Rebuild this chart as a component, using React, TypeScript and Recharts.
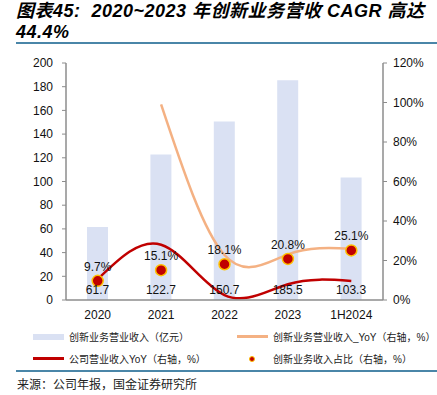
import React from 'react';
import {
  ComposedChart,
  Bar,
  Line,
  XAxis,
  YAxis,
  LabelList,
} from 'recharts';

const categories = ['2020', '2021', '2022', '2023', '1H2024'];
const innovRevenue = [61.7, 122.7, 150.7, 185.5, 103.3];
const innovYoY: (number | null)[] = [null, 99.0, 22.8, 23.1, 26.0];
const companyYoY = [10.5, 28.0, 2.5, 8.0, 9.6];
const innovShare = [9.7, 15.1, 18.1, 20.8, 25.1];

const leftTicks = [0, 20, 40, 60, 80, 100, 120, 140, 160, 180, 200];
const rightTicks = [0, 20, 40, 60, 80, 100, 120];

const SERIES_NAMES = {
  bar: '创新业务营业收入（亿元）',
  innovYoY: '创新业务营业收入_YoY（右轴，%）',
  companyYoY: '公司营业收入YoY（右轴，%）',
  share: '创新业务收入占比（右轴，%）',
};

const COLORS = {
  bar: '#DAE1F3',
  orange: '#F4B183',
  red: '#C00000',
  dotStroke: '#FFC000',
  axis: '#8C8C8C',
  rule: '#4A86A8',
};

const data = categories.map((c, i) => ({
  name: c,
  revenue: innovRevenue[i],
  innovYoY: innovYoY[i],
  companyYoY: companyYoY[i],
  share: innovShare[i],
}));

const FONT = '"Liberation Sans", Arial, "Noto Sans CJK SC", sans-serif';

const LegendSwatch = ({ kind }: { kind: 'bar' | 'orange' | 'red' | 'dot' }) => {
  if (kind === 'dot') {
    return (
      <svg width={34} height={10} style={{ display: 'block' }}>
        <circle cx={17} cy={5} r={2.5} fill={COLORS.red} stroke={COLORS.dotStroke} strokeWidth={1} />
      </svg>
    );
  }
  if (kind === 'bar') {
    return <div style={{ width: 31, height: 6, background: COLORS.bar }} />;
  }
  return (
    <div
      style={{
        width: 31,
        height: 3,
        background: kind === 'orange' ? COLORS.orange : COLORS.red,
      }}
    />
  );
};

const LegendItem = ({
  kind,
  label,
  x,
  y,
}: {
  kind: 'bar' | 'orange' | 'red' | 'dot';
  label: string;
  x: number;
  y: number;
}) => (
  <div
    style={{
      position: 'absolute',
      left: x,
      top: y,
      display: 'flex',
      alignItems: 'center',
      gap: 4,
      fontSize: 10,
      color: '#222',
      whiteSpace: 'nowrap',
    }}
  >
    <div style={{ width: 34, display: 'flex', justifyContent: 'center' }}>
      <LegendSwatch kind={kind} />
    </div>
    <span>{label}</span>
  </div>
);

export default function App() {
  return (
    <div
      style={{
        position: 'absolute',
        left: 0,
        top: 0,
        width: 437,
        height: 395,
        background: '#fff',
        fontFamily: FONT,
        overflow: 'hidden',
      }}
    >
      {/* title */}
      <div
        style={{
          position: 'absolute',
          left: 16,
          top: 1,
          fontSize: 18,
          fontWeight: 'bold',
          fontStyle: 'italic',
          letterSpacing: 0.5,
          lineHeight: '21px',
          color: '#000',
          whiteSpace: 'nowrap',
        }}
      >
        <div>图表45:&nbsp; 2020~2023 年创新业务营收 CAGR 高达</div>
        <div>44.4%</div>
      </div>
      <div
        style={{
          position: 'absolute',
          left: 16,
          top: 42,
          width: 421,
          height: 2,
          background: COLORS.rule,
        }}
      />

      <div style={{ position: 'absolute', left: 0, top: 0 }}>
        <ComposedChart
          width={437}
          height={330}
          data={data}
          margin={{ top: 63, right: 0, bottom: 0, left: 0 }}
        >
          <XAxis
            dataKey="name"
            height={30}
            tickLine={false}
            axisLine={{ stroke: COLORS.axis, strokeWidth: 1.5 }}
            tick={{ fontSize: 12, fill: '#111' }}
            tickMargin={4}
          />
          <YAxis
            yAxisId="left"
            width={66}
            domain={[0, 200]}
            ticks={leftTicks}
            interval={0}
            tickSize={4}
            tickMargin={9}
            axisLine={{ stroke: COLORS.axis, strokeWidth: 1.5 }}
            tickLine={{ stroke: COLORS.axis }}
            tick={{ fontSize: 12, fill: '#111' }}
          />
          <YAxis
            yAxisId="right"
            orientation="right"
            width={54}
            domain={[0, 120]}
            ticks={rightTicks}
            interval={0}
            tickSize={4}
            tickMargin={6}
            tickFormatter={(v: number) => `${v}%`}
            axisLine={{ stroke: COLORS.axis, strokeWidth: 1.5 }}
            tickLine={{ stroke: COLORS.axis }}
            tick={{ fontSize: 12, fill: '#111' }}
          />
          <Bar
            yAxisId="left"
            dataKey="revenue"
            name={SERIES_NAMES.bar}
            fill={COLORS.bar}
            barSize={21}
            isAnimationActive={false}
          >
            <LabelList
              dataKey="revenue"
              position="insideBottom"
              offset={6}
              style={{ fontSize: 12, fill: '#111' }}
              formatter={(v: number) => v.toFixed(1)}
            />
          </Bar>
          <Line
            yAxisId="right"
            type="natural"
            dataKey="innovYoY"
            name={SERIES_NAMES.innovYoY}
            stroke={COLORS.orange}
            strokeWidth={2.5}
            dot={false}
            activeDot={false}
            isAnimationActive={false}
          />
          <Line
            yAxisId="right"
            type="natural"
            dataKey="companyYoY"
            name={SERIES_NAMES.companyYoY}
            stroke={COLORS.red}
            strokeWidth={2.5}
            dot={false}
            activeDot={false}
            isAnimationActive={false}
          />
          <Line
            yAxisId="right"
            dataKey="share"
            name={SERIES_NAMES.share}
            stroke="none"
            dot={{ r: 5.5, fill: COLORS.red, stroke: COLORS.dotStroke, strokeWidth: 1.5 }}
            activeDot={false}
            isAnimationActive={false}
          >
            <LabelList
              dataKey="share"
              position="top"
              offset={10}
              style={{ fontSize: 12, fill: '#111' }}
              formatter={(v: number) => `${v.toFixed(1)}%`}
            />
          </Line>
        </ComposedChart>
      </div>

      <LegendItem kind="bar" label={SERIES_NAMES.bar} x={31} y={329} />
      <LegendItem kind="orange" label={SERIES_NAMES.innovYoY} x={235} y={329} />
      <LegendItem kind="red" label={SERIES_NAMES.companyYoY} x={31} y={351} />
      <LegendItem kind="dot" label={SERIES_NAMES.share} x={235} y={351} />

      <div
        style={{
          position: 'absolute',
          left: 16,
          top: 370,
          width: 421,
          height: 2,
          background: COLORS.rule,
        }}
      />
      <div
        style={{
          position: 'absolute',
          left: 17,
          top: 375,
          fontSize: 12,
          color: '#222',
          whiteSpace: 'nowrap',
        }}
      >
        来源：公司年报，国金证券研究所
      </div>
    </div>
  );
}
